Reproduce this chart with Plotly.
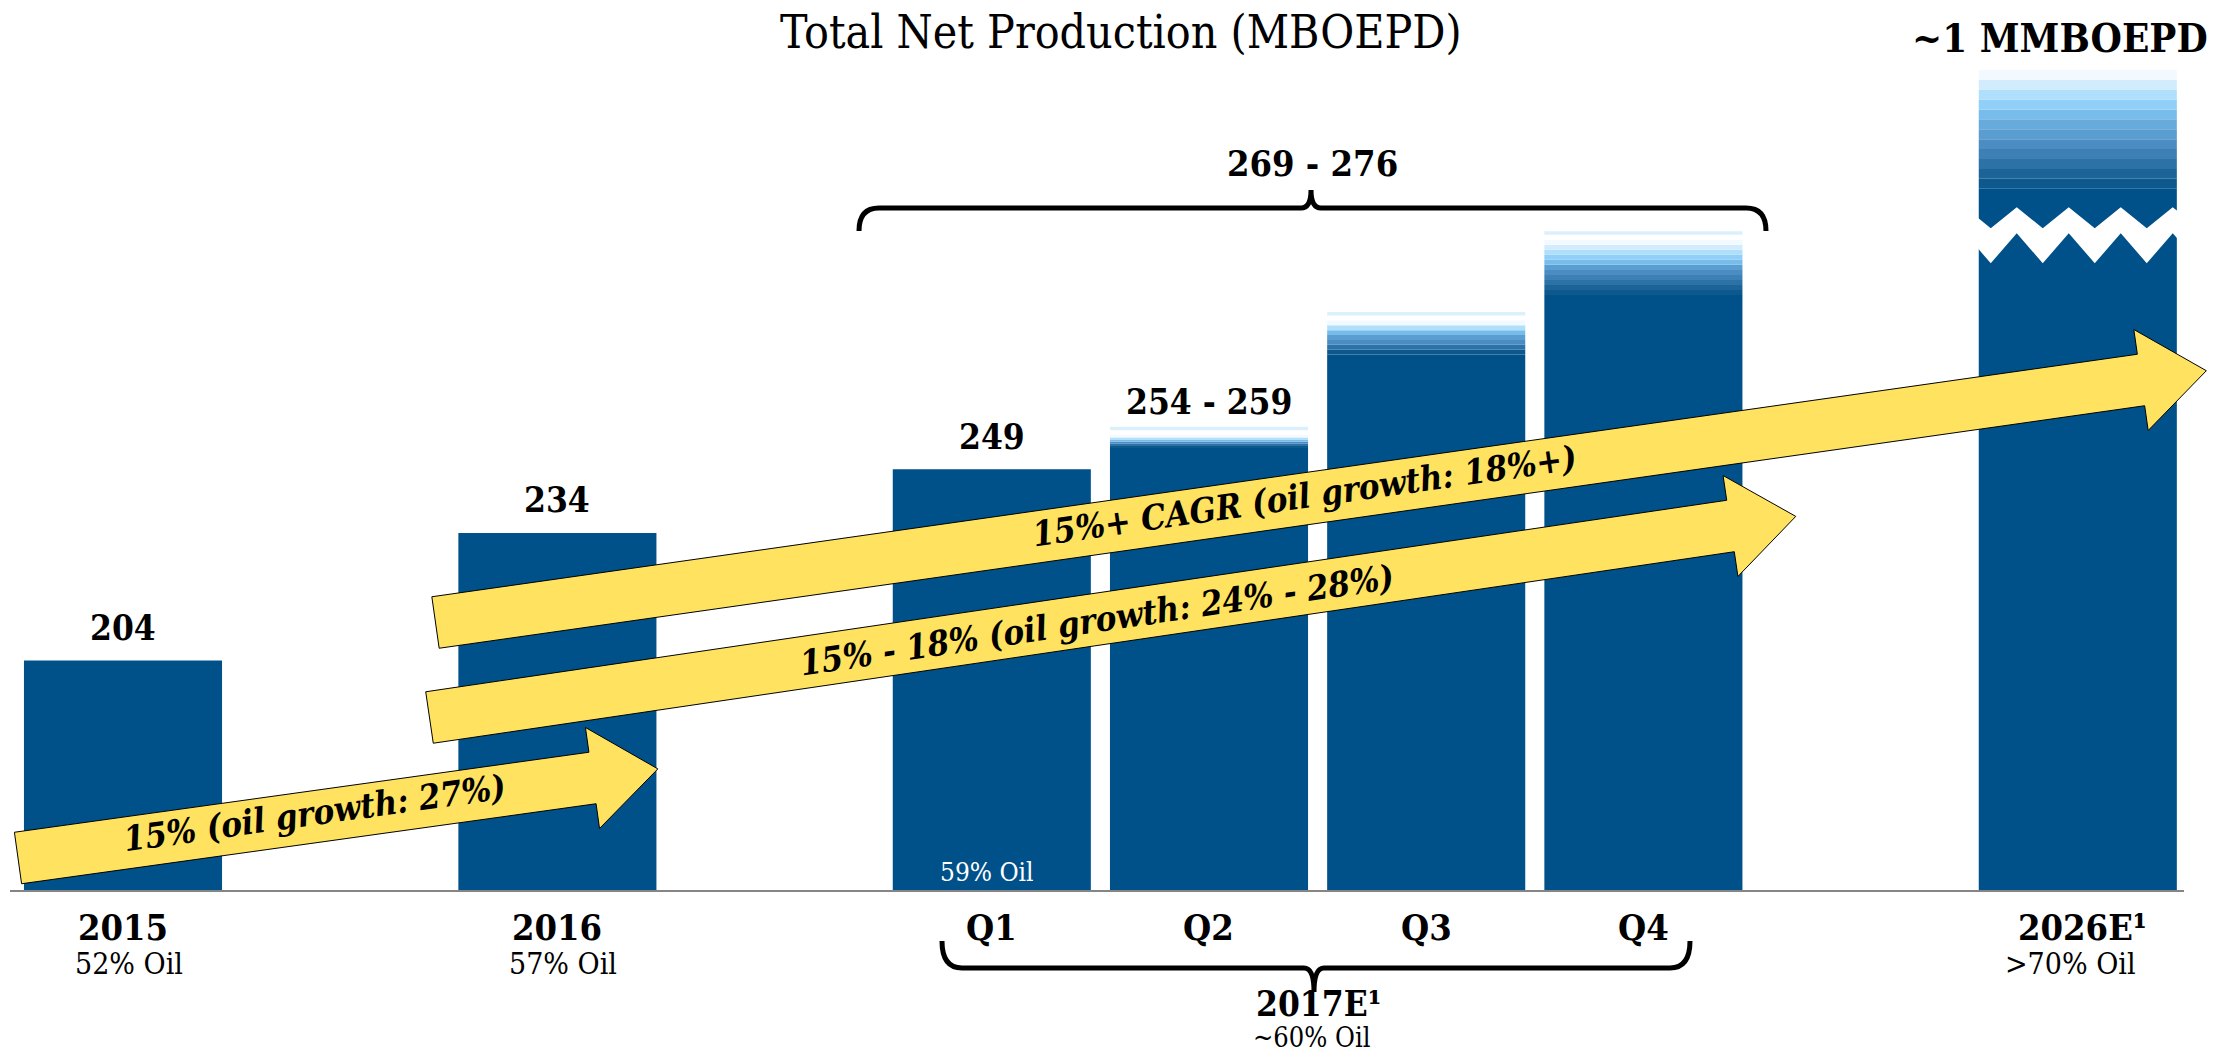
import math
import numpy as np
import plotly.graph_objects as go

# ---------------- data (MBOEPD) ----------------
categories = ["2015", "2016", "Q1", "Q2", "Q3", "Q4", "2026E"]
production_low = [204, 234, 249, 254, 276, 290, 972]     # solid part of each bar
production_high = [204, 234, 249, 259, 286, 305, 1000]   # top of guided range
value_labels = ["204", "234", "249", "254 - 259", "", "", "~1 MMBOEPD"]
oil_share = ["52% Oil", "57% Oil", "59% Oil", "", "", "", ">70% Oil"]
period_labels = ["2015", "2016", "Q1", "Q2", "Q3", "Q4", "2026E¹"]
annual_2017_label = "2017E¹"
annual_2017_oil = "~60% Oil"
annual_2017_range = "269 - 276"
growth_labels = [
    "15% (oil growth: 27%)",
    "15% - 18% (oil growth: 24% - 28%)",
    "15%+ CAGR (oil growth: 18%+)",
]
title_text = "Total Net Production (MBOEPD)"

# ---------------- layout / style ----------------
W, H = 2216, 1053
M_L, M_R, M_T, M_B = 10, 32, 50, 163
PW, PH = W - M_L - M_R, H - M_T - M_B

slots = [0, 2, 4, 5, 6, 7, 9]          # horizontal slot of each bar
SLOT_PX, SLOT0_PX = 217.2, 123.0
X0 = (M_L - SLOT0_PX) / SLOT_PX
X1 = (W - M_R - SLOT0_PX) / SLOT_PX
BAR_W = 0.912

Y0, PX_PER_UNIT = 150.0, 4.25
Y1 = Y0 + PH / PX_PER_UNIT

# broken value axis: the span between CUT_LO and CUT_HI is removed
CUT_LO, CUT_HI = 305, 962


def axis_value(v):
    return v if v <= CUT_LO else v - (CUT_HI - CUT_LO)


def xpx(u):
    return M_L + (u - X0) / (X1 - X0) * PW


def ypx(v):
    return M_T + PH - (axis_value(v) - Y0) / (Y1 - Y0) * PH


def paper(px, py):
    return (px - M_L) / PW, (M_T + PH - py) / PH


FONT = "DejaVu Serif Condensed, DejaVu Serif, serif"
DARK = "#00518A"
YELLOW = "#FEE260"
CAP = "#DCEFFD"
RAMP = ["#F2F9FF", "#D2ECFD", "#B0DFFC", "#8FCFF8", "#78BCEB", "#67ABDD",
        "#5A9DD0", "#4B8DC2", "#3C80B5", "#2D72A6", "#1C6497", "#0D588C"]
CAPPED = {"Q2", "Q3", "Q4"}
THIN, GAP = 0.8, 1.2

fig = go.Figure()

# solid part of every bar
fig.add_trace(go.Bar(
    x=slots, base=[Y0] * len(slots),
    y=[axis_value(lo) - Y0 for lo in production_low],
    width=BAR_W, marker=dict(color=DARK, line=dict(width=0)),
    opacity=1, hoverinfo="skip", showlegend=False,
))

# graded top of the ranged bars
for cat, s, lo, hi in zip(categories, slots, production_low, production_high):
    if hi <= lo:
        continue
    a_lo, a_hi = axis_value(lo), axis_value(hi)
    grad_top = a_hi - (THIN + GAP if cat in CAPPED else 0)
    n = int(min(12, max(6, round((grad_top - a_lo) * PX_PER_UNIT / 5))))
    edges = np.linspace(a_lo, grad_top, n + 1)
    idx = np.round(np.linspace(11, 0, n)).astype(int)
    fig.add_trace(go.Bar(
        x=[s] * n, base=edges[:-1], y=np.diff(edges),
        width=BAR_W, marker=dict(color=[RAMP[i] for i in idx], line=dict(width=0)),
        opacity=1, hoverinfo="skip", showlegend=False,
    ))
    if cat in CAPPED:
        fig.add_trace(go.Bar(
            x=[s], base=[a_hi - THIN], y=[THIN],
            width=BAR_W, marker=dict(color=CAP, line=dict(width=0)),
            opacity=1, hoverinfo="skip", showlegend=False,
        ))

shapes = []

# zig-zag break across the 2026E bar
s26 = slots[-1]
zx0, zx1 = xpx(s26 - BAR_W / 2) - 4, xpx(s26 + BAR_W / 2) + 4
c = ypx(CUT_LO)
period, peak_x = 52.0, xpx(s26 - BAR_W / 2) + 12
xs = [zx0]
k = math.floor((zx0 - peak_x) / (period / 2)) + 1
while peak_x + k * period / 2 < zx1:
    xs.append(peak_x + k * period / 2)
    k += 1
xs.append(zx1)


def tri(x):
    return abs(((x - peak_x) % period) - period / 2) / (period / 2)


upper = [(x, c - 24 + 21 * tri(x)) for x in xs]
lower = [(x, c + 2 + 30 * tri(x)) for x in xs]
pts = upper + lower[::-1]
path = "M " + " L ".join("%.5f,%.5f" % paper(*p) for p in pts) + " Z"
shapes.append(dict(type="path", xref="paper", yref="paper", path=path,
                   fillcolor="white", line=dict(width=0), layer="above"))

# growth arrows: (tail centre, end-of-body centre) in pixels
arrows = [((18, 858), (592.5, 778)),
          ((429.5, 717.5), (1730.5, 526)),
          ((435.5, 622.5), (2141, 380))]
THICK, HEAD_HALF, HEAD_LEN = 52, 51, 66
arrow_angles = []
for (tx, ty), (ex, ey) in arrows:
    L = math.hypot(ex - tx, ey - ty)
    dx, dy = (ex - tx) / L, (ey - ty) / L
    nx, ny = -dy, dx                      # perpendicular (pointing down-screen)
    p = [(tx - nx * THICK / 2, ty - ny * THICK / 2),
         (ex - nx * THICK / 2, ey - ny * THICK / 2),
         (ex - nx * HEAD_HALF, ey - ny * HEAD_HALF),
         (ex + dx * HEAD_LEN, ey + dy * HEAD_LEN),
         (ex + nx * HEAD_HALF, ey + ny * HEAD_HALF),
         (ex + nx * THICK / 2, ey + ny * THICK / 2),
         (tx + nx * THICK / 2, ty + ny * THICK / 2)]
    path = "M " + " L ".join("%.5f,%.5f" % paper(*q) for q in p) + " Z"
    shapes.append(dict(type="path", xref="paper", yref="paper", path=path,
                       fillcolor=YELLOW, line=dict(color="black", width=1), layer="above"))
    arrow_angles.append(math.degrees(math.atan2(-(ey - ty), ex - tx)))


def brace(points):
    out = []
    for cmd, *coords in points:
        xy = []
        for i in range(0, len(coords), 2):
            px_, py_ = paper(coords[i], coords[i + 1])
            xy.append("%.5f,%.5f" % (px_, py_))
        out.append(cmd + " " + " ".join(xy))
    return " ".join(out)


top_brace = brace([("M", 859, 231), ("Q", 859, 208, 879, 208), ("L", 1301, 208),
                   ("Q", 1311, 208, 1311, 190), ("Q", 1311, 208, 1321, 208),
                   ("L", 1746, 208), ("Q", 1766, 208, 1766, 231)])
bottom_brace = brace([("M", 942, 941), ("Q", 942, 968, 962, 968), ("L", 1304, 968),
                      ("Q", 1314, 968, 1314, 992), ("Q", 1314, 968, 1324, 968),
                      ("L", 1670, 968), ("Q", 1690, 968, 1690, 941)])
for b in (top_brace, bottom_brace):
    shapes.append(dict(type="path", xref="paper", yref="paper", path=b,
                       line=dict(color="black", width=5), layer="above"))

annotations = []


def text_at(text, px, py, size, color="black", angle=0):
    x, y = paper(px, py)
    annotations.append(dict(text=text, x=x, y=y, xref="paper", yref="paper",
                            xanchor="center", yanchor="middle", showarrow=False,
                            textangle=angle,
                            font=dict(family=FONT, size=size, color=color)))


text_at(title_text, 1121, 32, 46)

# value labels above bars
label_shift = [33, 34, 32.5, 25, 0, 0, 32]
for s, hi, lab, sh in zip(slots, production_high, value_labels, label_shift):
    if not lab:
        continue
    if "MMBOEPD" in lab:
        text_at("<b>%s</b>" % lab, xpx(s) - 18, ypx(hi) - sh, 40)
    else:
        text_at("<b>%s</b>" % lab, xpx(s), ypx(hi) - sh, 35)
text_at("<b>%s</b>" % annual_2017_range, 1312, 163, 36)

# period labels and oil share
for cat, s, lab, oil in zip(categories, slots, period_labels, oil_share):
    dx = 5 if lab.endswith("¹") else 0
    text_at("<b>%s</b>" % lab, xpx(s) + dx, 927, 36)
    if oil and cat == "Q1":
        text_at(oil, xpx(s) - 5, 872, 26, color="white")
    elif oil:
        text_at(oil, xpx(s) + (-7 if cat == "2026E" else 6), 964, 30)
text_at("<b>%s</b>" % annual_2017_label, 1318, 1003, 35)
text_at(annual_2017_oil, 1312, 1037, 27)

# growth labels along the arrows
arrow_text_pos = [(314, 813), (1097, 620), (1304, 496)]
for lab, (px_, py_), ang in zip(growth_labels, arrow_text_pos, arrow_angles):
    text_at("<b><i>%s</i></b>" % lab, px_, py_, 34.5, angle=-ang)

fig.update_layout(
    width=W, height=H, autosize=False,
    margin=dict(l=M_L, r=M_R, t=M_T, b=M_B, pad=0),
    paper_bgcolor="white", plot_bgcolor="white",
    barmode="overlay", showlegend=False,
    xaxis=dict(range=[X0, X1], showgrid=False, zeroline=False, showticklabels=False,
               ticks="", showline=True, linecolor="#858585", linewidth=2, fixedrange=True),
    yaxis=dict(range=[Y0, Y1], showgrid=False, zeroline=False, showticklabels=False,
               ticks="", showline=False, fixedrange=True),
    shapes=shapes, annotations=annotations,
)

fig.write_html("out.html", config={"displayModeBar": False})
